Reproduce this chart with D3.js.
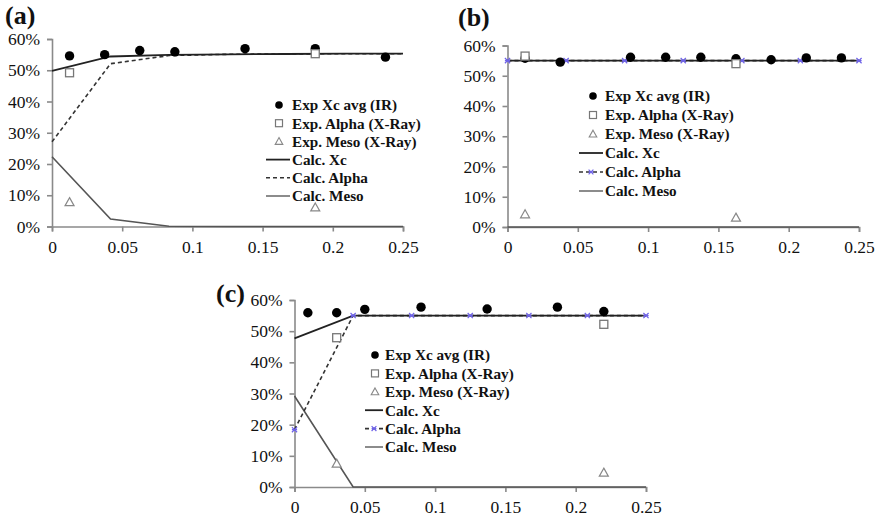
<!DOCTYPE html>
<html>
<head>
<meta charset="utf-8">
<script src="https://cdn.jsdelivr.net/npm/d3@7"></script>
<style>
body { margin:0; background:#fff; }
svg text { font-family:"Liberation Serif","Times New Roman",serif; }
</style>
</head>
<body>
<script>
// ---- data (percent values) ----
var xTicks = [0, 0.05, 0.1, 0.15, 0.2, 0.25];
var yTicks = [0, 10, 20, 30, 40, 50, 60];
var calcX = [0, 0.0417, 0.0833, 0.125, 0.1667, 0.2083, 0.25];
var legendNames = ["Exp Xc avg (IR)", "Exp. Alpha (X-Ray)", "Exp. Meso (X-Ray)", "Calc. Xc", "Calc. Alpha", "Calc. Meso"];

// panel (a)
var aXcX = [0.0125, 0.0375, 0.0625, 0.0875, 0.1375, 0.1875, 0.2375];
var aXcY = [54.6, 55.0, 56.3, 55.9, 56.9, 56.9, 54.2];
var aAlphaX = [0.0125, 0.1875];
var aAlphaY = [49.2, 55.3];
var aMesoX = [0.0125, 0.1875];
var aMesoY = [7.8, 6.1];
var aCalcXc = [49.8, 54.4, 54.9, 55.1, 55.2, 55.3, 55.3];
var aCalcAlpha = [27.1, 52.1, 54.7, 55.1, 55.2, 55.3, 55.3];
var aCalcMeso = [22.3, 2.4, 0.1, 0, 0, 0, 0];

// panel (b)
var bXcX = [0.0125, 0.0375, 0.0875, 0.1125, 0.1375, 0.1625, 0.1875, 0.2125, 0.2375];
var bXcY = [55.8, 54.5, 56.1, 56.1, 56.1, 55.6, 55.3, 55.9, 55.9];
var bAlphaX = [0.0125, 0.1625];
var bAlphaY = [56.5, 54.0];
var bMesoX = [0.0125, 0.1625];
var bMesoY = [4.2, 3.1];
var bCalcXc = [55, 55, 55, 55, 55, 55, 55];
var bCalcAlpha = [55, 55, 55, 55, 55, 55, 55];
var bCalcMeso = [0, 0, 0, 0, 0, 0, 0];

// panel (c)
var cXcX = [0.0095, 0.03, 0.05, 0.09, 0.137, 0.187, 0.22];
var cXcY = [55.9, 55.9, 57.0, 57.7, 57.1, 57.7, 56.3];
var cAlphaX = [0.03, 0.22];
var cAlphaY = [47.9, 52.2];
var cMesoX = [0.03, 0.22];
var cMesoY = [7.5, 4.6];
var cCalcXc = [47.7, 55.0, 55.0, 55.0, 55.0, 55.0, 55.0];
var cCalcAlpha = [18.4, 55.0, 55.0, 55.0, 55.0, 55.0, 55.0];
var cCalcMeso = [29.2, 0, 0, 0, 0, 0, 0];

var svg = d3.select("body").append("svg").attr("width", 880).attr("height", 521);

function zip(xs, ys) { return xs.map(function (x, i) { return [x, ys[i]]; }); }

function asterisk(g, cx, cy, s) {
	g.append("path").attr("d", "M" + (cx - s) + "," + (cy - s) + "L" + (cx + s) + "," + (cy + s) +
		"M" + (cx - s) + "," + (cy + s) + "L" + (cx + s) + "," + (cy - s) +
		"M" + (cx - s) + "," + cy + "L" + (cx + s) + "," + cy)
		.attr("stroke", "#6f63e8").attr("stroke-width", 1.2).attr("fill", "none");
}

function panel(p) {
	var g = svg.append("g");
	var x = d3.scaleLinear().domain([0, 0.25]).range([p.left, p.right]);
	var y = d3.scaleLinear().domain([0, 60]).range([p.bottom, p.top]);

	var yAxis = g.append("g").attr("transform", "translate(" + p.left + ",0)")
		.call(d3.axisLeft(y).tickValues(yTicks).tickSize(5).tickPadding(7).tickFormat(function (d) { return d + "%"; }));
	var xAxis = g.append("g").attr("transform", "translate(0," + p.bottom + ")")
		.call(d3.axisBottom(x).tickValues(xTicks).tickSize(5).tickPadding(9).tickFormat(d3.format("")));
	[yAxis, xAxis].forEach(function (a) {
		a.attr("font-family", null);
		a.select(".domain").attr("stroke", "#8a8a8a").attr("stroke-width", 1.6);
		a.selectAll(".tick line").attr("stroke", "#8a8a8a").attr("stroke-width", 1.6);
		a.selectAll("text").style("font-size", "17.5px").attr("fill", "#111").style("font-family", "Liberation Serif");
	});

	var line = d3.line().x(function (d) { return x(d[0]); }).y(function (d) { return y(d[1]); });

	// calc curves
	g.append("path").datum(zip(calcX, p.calcMeso)).attr("d", line)
		.attr("fill", "none").attr("stroke", "#555").attr("stroke-width", 1.6);
	g.append("path").datum(zip(calcX, p.calcAlpha)).attr("d", line)
		.attr("fill", "none").attr("stroke", "#333").attr("stroke-width", 1.6).attr("stroke-dasharray", "4,3");
	g.append("path").datum(zip(calcX, p.calcXc)).attr("d", line)
		.attr("fill", "none").attr("stroke", "#222").attr("stroke-width", 1.8);
	if (p.alphaMarks) {
		calcX.forEach(function (v, i) { asterisk(g, x(v), y(p.calcAlpha[i]), 2.6); });
	}

	// experimental points
	g.selectAll(".xc").data(zip(p.xcX, p.xcY)).enter().append("circle")
		.attr("cx", function (d) { return x(d[0]); }).attr("cy", function (d) { return y(d[1]); })
		.attr("r", 4.7).attr("fill", "#000");
	g.selectAll(".al").data(zip(p.alphaX, p.alphaY)).enter().append("rect")
		.attr("x", function (d) { return x(d[0]) - 4; }).attr("y", function (d) { return y(d[1]) - 4; })
		.attr("width", 8).attr("height", 8).attr("fill", "#fff").attr("stroke", "#777").attr("stroke-width", 1.3);
	g.selectAll(".me").data(zip(p.mesoX, p.mesoY)).enter().append("path")
		.attr("d", function (d) { var cx = x(d[0]), cy = y(d[1]); return "M" + cx + "," + (cy - 4.5) + "L" + (cx + 4.5) + "," + (cy + 3.5) + "L" + (cx - 4.5) + "," + (cy + 3.5) + "Z"; })
		.attr("fill", "#fff").attr("stroke", "#888").attr("stroke-width", 1.2);

	// legend
	var L = p.legend;
	legendNames.forEach(function (name, i) {
		var ry = L.y + i * L.dy;
		var mx = L.mx;
		if (i == 0) g.append("circle").attr("cx", mx).attr("cy", ry).attr("r", 3.8).attr("fill", "#000");
		if (i == 1) g.append("rect").attr("x", mx - 3.5).attr("y", ry - 3.5).attr("width", 7).attr("height", 7)
			.attr("fill", "#fff").attr("stroke", "#777").attr("stroke-width", 1.2);
		if (i == 2) g.append("path").attr("d", "M" + mx + "," + (ry - 3.8) + "L" + (mx + 3.8) + "," + (ry + 3) + "L" + (mx - 3.8) + "," + (ry + 3) + "Z")
			.attr("fill", "#fff").attr("stroke", "#888").attr("stroke-width", 1.1);
		if (i == 3) g.append("line").attr("x1", L.x0).attr("x2", L.x1).attr("y1", ry).attr("y2", ry).attr("stroke", "#222").attr("stroke-width", 1.8);
		if (i == 4) {
			g.append("line").attr("x1", L.x0).attr("x2", L.x1).attr("y1", ry).attr("y2", ry).attr("stroke", "#333").attr("stroke-width", 1.6).attr("stroke-dasharray", "4,3");
			if (p.alphaMarks) asterisk(g, (L.x0 + L.x1) / 2, ry, 2.4);
		}
		if (i == 5) g.append("line").attr("x1", L.x0).attr("x2", L.x1).attr("y1", ry).attr("y2", ry).attr("stroke", "#666").attr("stroke-width", 1.5);
		g.append("text").attr("x", L.tx).attr("y", ry).attr("dy", "0.35em")
			.style("font-family", "Liberation Serif")
			.style("font-size", "15.2px").style("font-weight", "bold").attr("fill", "#111").text(name);
	});

	g.append("text").attr("x", p.labX).attr("y", p.labY).style("font-size", p.labSize + "px")
		.style("font-family", "Liberation Serif")
		.style("font-weight", "bold").attr("fill", "#111").text(p.label);
}

panel({ left: 52, right: 403, top: 39, bottom: 226.5,
	xcX: aXcX, xcY: aXcY, alphaX: aAlphaX, alphaY: aAlphaY, mesoX: aMesoX, mesoY: aMesoY,
	calcXc: aCalcXc, calcAlpha: aCalcAlpha, calcMeso: aCalcMeso, alphaMarks: false,
	legend: { x0: 266, x1: 290, mx: 279, tx: 292, y: 105, dy: 18.2 },
	label: "(a)", labX: 5, labY: 24, labSize: 26 });

panel({ left: 507.5, right: 859, top: 45.5, bottom: 227,
	xcX: bXcX, xcY: bXcY, alphaX: bAlphaX, alphaY: bAlphaY, mesoX: bMesoX, mesoY: bMesoY,
	calcXc: bCalcXc, calcAlpha: bCalcAlpha, calcMeso: bCalcMeso, alphaMarks: true,
	legend: { x0: 579, x1: 603, mx: 593, tx: 605, y: 96, dy: 19 },
	label: "(b)", labX: 458, labY: 26, labSize: 26 });

panel({ left: 294.5, right: 646, top: 300, bottom: 487,
	xcX: cXcX, xcY: cXcY, alphaX: cAlphaX, alphaY: cAlphaY, mesoX: cMesoX, mesoY: cMesoY,
	calcXc: cCalcXc, calcAlpha: cCalcAlpha, calcMeso: cCalcMeso, alphaMarks: true,
	legend: { x0: 365, x1: 383, mx: 375, tx: 385, y: 355, dy: 18.4 },
	label: "(c)", labX: 216, labY: 302, labSize: 26 });
</script>
</body>
</html>
